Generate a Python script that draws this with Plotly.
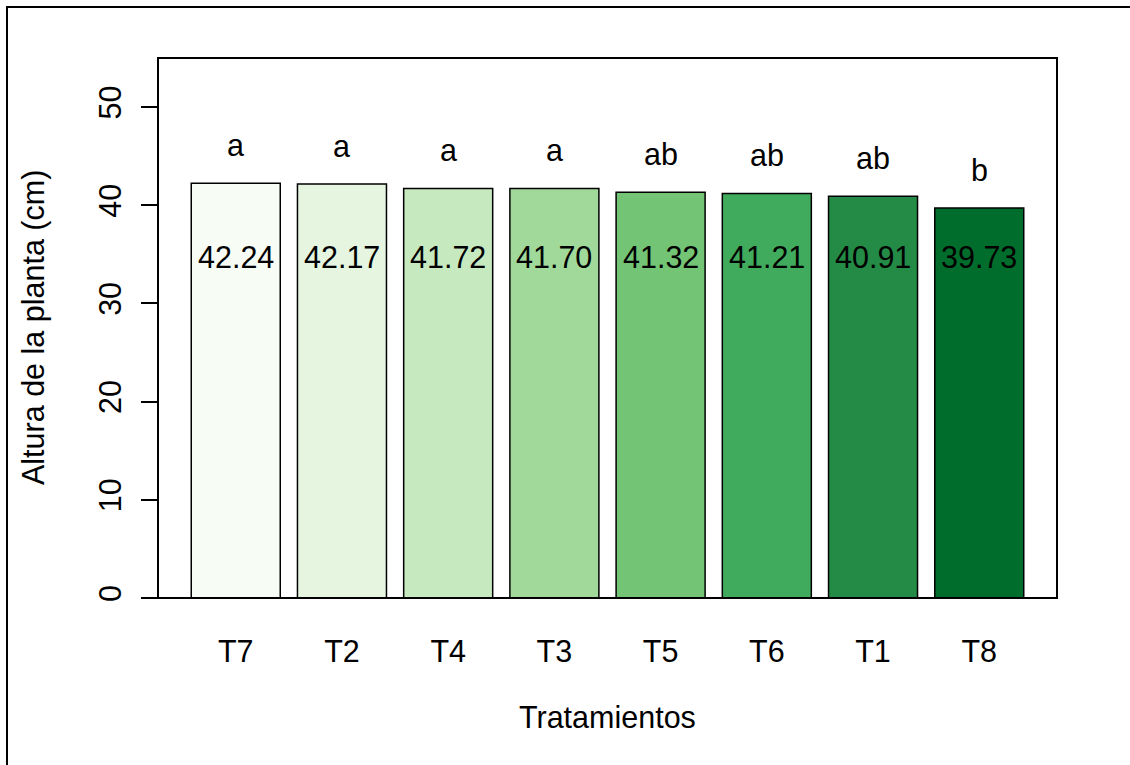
import plotly.graph_objects as go

# Plant height per treatment, sorted from tallest to shortest
tratamientos = ["T7", "T2", "T4", "T3", "T5", "T6", "T1", "T8"]
altura = [42.24, 42.17, 41.72, 41.70, 41.32, 41.21, 40.91, 39.73]
grupos = ["a", "a", "a", "a", "ab", "ab", "ab", "b"]
y_ticks = [0, 10, 20, 30, 40, 50]

# Brewer "Greens" ramp, light to dark
colores = ["#F7FCF5", "#E5F5E0", "#C7E9C0", "#A1D99B",
           "#74C476", "#41AB5D", "#238B45", "#006D2C"]

FONT = "Liberation Sans, Arial, sans-serif"
FS = 30.5
W, H = 1130, 765
L, R, T, B = 158, 73, 58, 167
pw, ph = W - L - R, H - T - B

fig = go.Figure()
fig.add_trace(go.Bar(
    x=tratamientos, y=altura,
    marker=dict(color=colores, line=dict(color="black", width=1.5)),
    hoverinfo="x+y", showlegend=False,
))

annotations = []
# mean values printed inside each bar
for t, v in zip(tratamientos, altura):
    annotations.append(dict(x=t, y=34.7, xref="x", yref="y", text=f"{v:.2f}",
                            showarrow=False, yanchor="middle",
                            font=dict(family=FONT, size=FS, color="black")))
# significance letters above each bar
for t, v, g in zip(tratamientos, altura, grupos):
    annotations.append(dict(x=t, y=v + 3.9, xref="x", yref="y", text=g,
                            showarrow=False, yanchor="middle",
                            font=dict(family=FONT, size=FS, color="black")))

def px_x(p):
    return (p - L) / pw

def px_y(p):
    return (H - B - p) / ph

# axis titles
annotations.append(dict(x=0.5, y=px_y(717), xref="paper", yref="paper",
                        text="Tratamientos", showarrow=False, yanchor="middle",
                        font=dict(family=FONT, size=FS, color="black")))
annotations.append(dict(x=px_x(33), y=0.5, xref="paper", yref="paper",
                        text="Altura de la planta (cm)", showarrow=False,
                        textangle=-90, xanchor="center", yanchor="middle",
                        font=dict(family=FONT, size=FS, color="black")))

shapes = [
    # plot box
    dict(type="rect", xref="paper", yref="paper", x0=0, y0=0, x1=1, y1=1,
         line=dict(color="black", width=2), fillcolor="rgba(0,0,0,0)", layer="above"),
    # figure frame
    dict(type="rect", xref="paper", yref="paper",
         x0=px_x(7), y0=px_y(7), x1=px_x(W + 10), y1=px_y(H + 10),
         line=dict(color="black", width=2), fillcolor="rgba(0,0,0,0)"),
]

fig.update_layout(
    width=W, height=H,
    margin=dict(l=L, r=R, t=T, b=B, autoexpand=False),
    paper_bgcolor="white", plot_bgcolor="white",
    bargap=0.162,
    font=dict(family=FONT, size=FS, color="black"),
    annotations=annotations, shapes=shapes,
    xaxis=dict(type="category", range=[-0.732, 7.732], showgrid=False,
               showline=False, zeroline=False, ticks="",
               ticklabelstandoff=32, tickfont=dict(family=FONT, size=FS)),
    yaxis=dict(range=[0, 55], tickvals=y_ticks, showgrid=False, zeroline=False,
               showline=False, ticks="outside", ticklen=16, tickwidth=2,
               tickcolor="black", tickangle=-90, ticklabelstandoff=8,
               tickfont=dict(family=FONT, size=FS)),
)

fig.write_html("out.html")
